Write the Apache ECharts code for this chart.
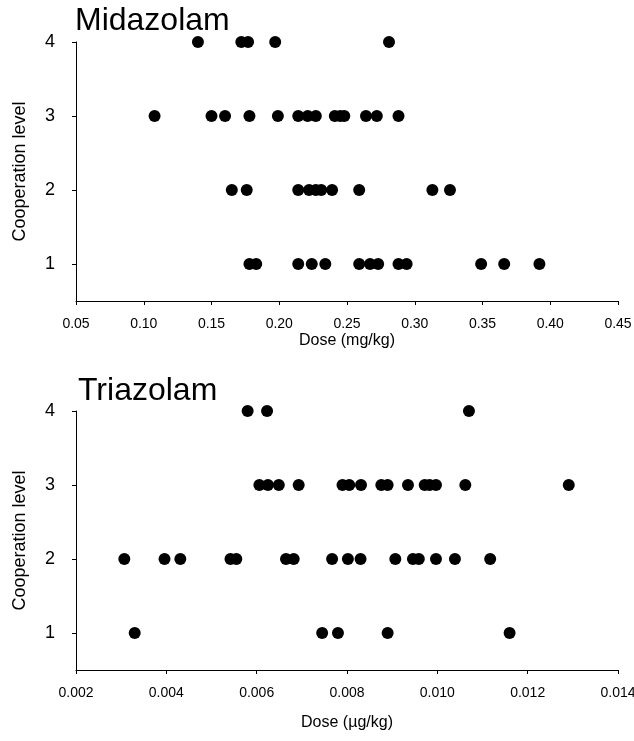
<!DOCTYPE html>
<html>
<head>
    <meta charset="UTF-8">
    <title>Midazolam / Triazolam</title>
    <script src="https://cdn.jsdelivr.net/npm/echarts@6/dist/echarts.min.js"></script>
</head>
<body style="margin: 0; background: #fff">
    <div id="container" style="width: 634px; height: 741px"></div>
    <script type="text/javascript">
        // dose values per cooperation level
        var levels = [1, 2, 3, 4];

        var midaLevel1 = [0.178, 0.183, 0.214, 0.224, 0.234, 0.259, 0.267, 0.273, 0.288, 0.294, 0.349, 0.366, 0.392];
        var midaLevel2 = [0.165, 0.176, 0.214, 0.222, 0.227, 0.231, 0.239, 0.259, 0.313, 0.326];
        var midaLevel3 = [0.108, 0.150, 0.160, 0.178, 0.199, 0.214, 0.221, 0.227, 0.241, 0.245, 0.248, 0.264, 0.272, 0.288];
        var midaLevel4 = [0.140, 0.172, 0.177, 0.197, 0.281];

        var triaLevel1 = [0.00330, 0.00745, 0.00780, 0.00890, 0.01160];
        var triaLevel2 = [0.00307, 0.00396, 0.00431, 0.00542, 0.00555, 0.00665, 0.00682, 0.00767, 0.00802,
            0.00830, 0.00907, 0.00946, 0.00959, 0.00997, 0.01039, 0.01117];
        var triaLevel3 = [0.00606, 0.00625, 0.00649, 0.00693, 0.00790, 0.00805, 0.00831, 0.00876, 0.00890,
            0.00935, 0.00972, 0.00983, 0.00997, 0.01062, 0.01291];
        var triaLevel4 = [0.00580, 0.00623, 0.01070];

        var midaTicks = [0.05, 0.10, 0.15, 0.20, 0.25, 0.30, 0.35, 0.40, 0.45];
        var triaTicks = [0.002, 0.004, 0.006, 0.008, 0.010, 0.012, 0.014];

        var font = 'Liberation Sans, Arial, sans-serif';

        function toPoints(lists) {
            var pts = [];
            lists.forEach(function (l, i) {
                l.forEach(function (v) {
                    pts.push([v, levels[i]]);
                });
            });
            return pts;
        }

        function xAxisFor(idx, ticks, digits, name, gap) {
            return {
                gridIndex: idx,
                type: 'value',
                min: ticks[0],
                max: ticks[ticks.length - 1],
                interval: ticks[1] - ticks[0],
                name: name,
                nameLocation: 'middle',
                nameGap: gap,
                nameTextStyle: { color: '#000', fontSize: 16, fontFamily: font },
                axisLine: { show: true, lineStyle: { color: '#000', width: 1 } },
                axisTick: { show: true, inside: false, length: 4, lineStyle: { color: '#000' } },
                axisLabel: {
                    color: '#000', fontSize: 14, fontFamily: font, margin: 16,
                    formatter: function (v) { return v.toFixed(digits); }
                },
                splitLine: { show: false }
            };
        }

        function yAxisFor(idx) {
            return {
                gridIndex: idx,
                type: 'value',
                min: 0.5,
                max: 4,
                name: 'Cooperation level',
                nameLocation: 'middle',
                nameGap: 47,
                nameTextStyle: { color: '#000', fontSize: 18, fontFamily: font },
                axisLine: { show: true, lineStyle: { color: '#000', width: 1 } },
                axisTick: { show: true, length: 4, customValues: levels, lineStyle: { color: '#000' } },
                axisLabel: { color: '#000', fontSize: 18, fontFamily: font, margin: 21, customValues: levels },
                splitLine: { show: false }
            };
        }

        var dom = document.getElementById('container');
        var myChart = echarts.init(dom, null, { renderer: 'canvas' });

        var option = {
            backgroundColor: '#fff',
            animation: false,
            title: [{
                text: 'Midazolam', left: 75, top: 5, padding: 0,
                textStyle: { color: '#000', fontWeight: 'normal', fontSize: 32, fontFamily: font }
            }, {
                text: 'Triazolam', left: 78, top: 375, padding: 0,
                textStyle: { color: '#000', fontWeight: 'normal', fontSize: 32, fontFamily: font }
            }],
            grid: [
                { left: 76, right: 16, top: 42, height: 259, outerBoundsMode: 'none' },
                { left: 76, right: 16, top: 411, height: 259, outerBoundsMode: 'none' }
            ],
            xAxis: [
                xAxisFor(0, midaTicks, 2, 'Dose (mg/kg)', 32),
                xAxisFor(1, triaTicks, 3, 'Dose (\u00b5g/kg)', 45)
            ],
            yAxis: [yAxisFor(0), yAxisFor(1)],
            series: [{
                type: 'scatter',
                xAxisIndex: 0, yAxisIndex: 0,
                symbol: 'circle', symbolSize: 12,
                itemStyle: { color: '#000', opacity: 1 },
                data: toPoints([midaLevel1, midaLevel2, midaLevel3, midaLevel4])
            }, {
                type: 'scatter',
                xAxisIndex: 1, yAxisIndex: 1,
                symbol: 'circle', symbolSize: 12,
                itemStyle: { color: '#000', opacity: 1 },
                data: toPoints([triaLevel1, triaLevel2, triaLevel3, triaLevel4])
            }]
        };

        myChart.setOption(option);
    </script>
</body>
</html>
